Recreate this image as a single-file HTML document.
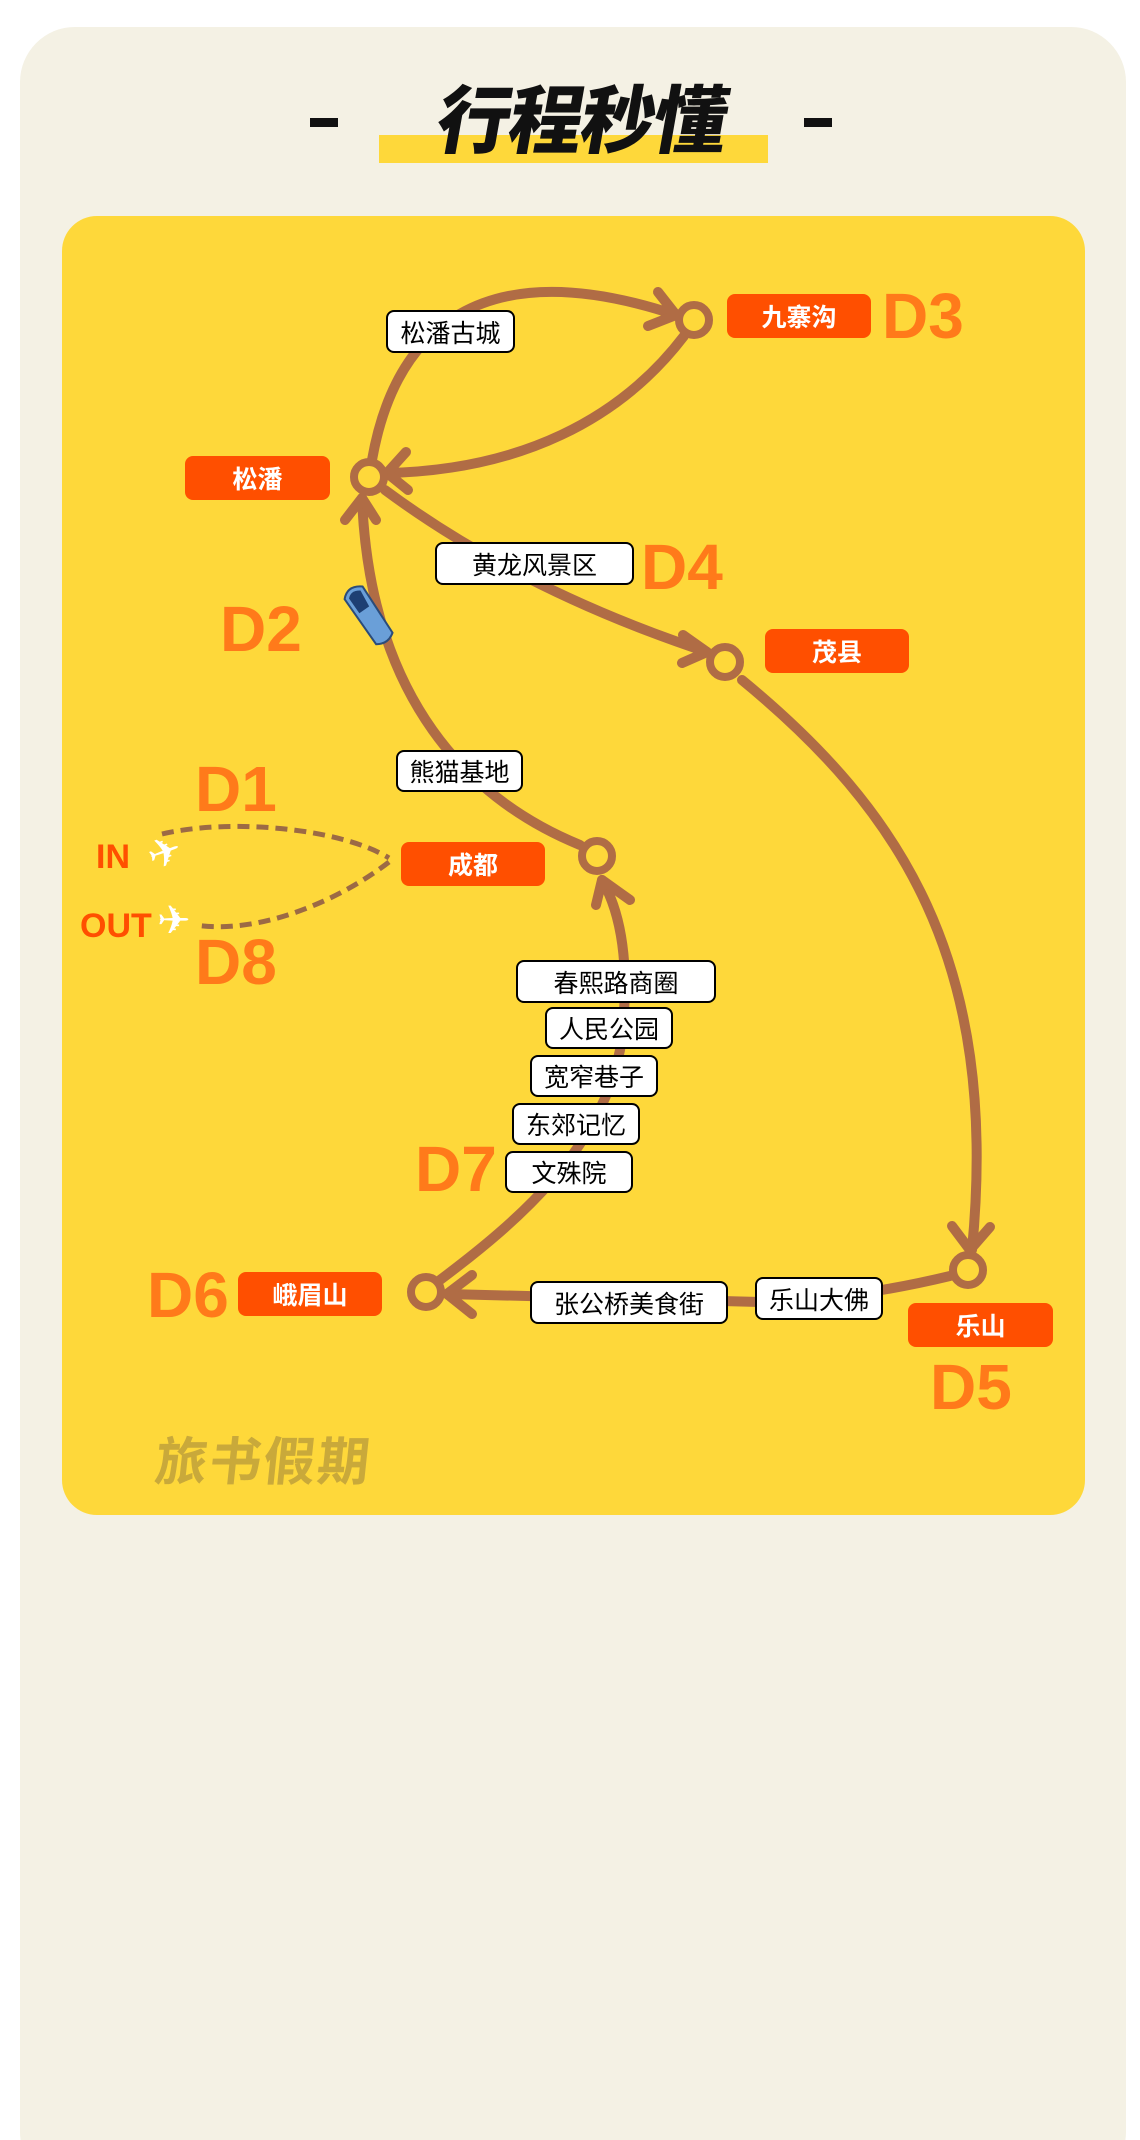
<!DOCTYPE html>
<html><head><meta charset="utf-8"><style>
body{margin:0;background:#fff;}
.wrap{position:relative;width:1140px;height:2140px;overflow:hidden;font-family:"Liberation Sans","Noto Sans CJK SC",sans-serif;}
.card{position:absolute;left:20px;top:27px;width:1106px;height:2160px;background:#f4f1e4;border-radius:55px;}
.panel{position:absolute;left:62px;top:216px;width:1023px;height:1299px;background:#fed83a;border-radius:35px;}
.ob{position:absolute;background:#ff4f00;color:#fff;font-weight:bold;font-size:25px;border-radius:8px;display:flex;align-items:center;justify-content:center;}
.wb{position:absolute;background:#fff;color:#000;font-size:25px;border:2px solid #000;border-radius:8px;box-sizing:border-box;display:flex;align-items:center;justify-content:center;}
.d{position:absolute;color:#ff7a1a;font-weight:bold;font-size:64px;line-height:1;}
</style></head><body><div class="wrap">
<div class="card"></div>
<div style="position:absolute;left:310px;top:118px;width:28px;height:9px;background:#111"></div>
<div style="position:absolute;left:804px;top:118px;width:28px;height:9px;background:#111"></div>
<div style="position:absolute;left:379px;top:135px;width:389px;height:28px;background:#fed83a"></div>
<div style="position:absolute;left:430px;top:72px;width:305px;text-align:center;font-size:74px;font-weight:900;color:#111;transform:skewX(-10deg);font-family:'Noto Sans CJK SC',sans-serif;line-height:1.2;letter-spacing:-2px">行程秒懂</div>
<div class="panel"></div>
<svg style="position:absolute;left:0;top:0" width="1140" height="2140">
<g fill="none" stroke="#b06c45" stroke-width="10" stroke-linecap="round" stroke-linejoin="round">
<path d="M372 460 C395 330,480 250,676 315"/>
<path d="M658 292 L676 315 L648 326"/>
<path d="M684 336 C620 420,520 470,387 473"/>
<path d="M406 452 L387 473 L408 490"/>
<path d="M580 845 C470 800,370 700,362 498"/>
<path d="M345 520 L362 498 L376 520"/>
<path d="M385 490 Q520 590 707 652"/>
<path d="M683 635 L707 652 L682 663"/>
<path d="M742 680 C900 810,1000 960,972 1250"/>
<path d="M952 1226 L970 1250 L990 1227"/>
<path d="M950 1276 Q850 1300 760 1302 L447 1294"/>
<path d="M472 1275 L447 1294 L472 1314"/>
<path d="M440 1280 C520 1220,600 1150,620 1050 C630 980,625 920,602 880"/>
<path d="M596 905 L602 880 L630 900"/>
</g>
<g fill="none" stroke="#b06c45" stroke-width="8">
<circle cx="694" cy="320" r="15"/><circle cx="369" cy="477" r="15"/><circle cx="725" cy="662" r="15"/>
<circle cx="597" cy="856" r="15"/><circle cx="968" cy="1270" r="15"/><circle cx="426" cy="1292" r="15"/>
</g>
<g fill="none" stroke="#9c6a45" stroke-width="5" stroke-dasharray="12 7">
<path d="M162 834 C230 818,340 828,389 858"/>
<path d="M389 862 C340 900,260 935,195 925"/>
</g>
<g transform="translate(370,618) rotate(-35)">
<path d="M-10 -30 Q0 -40 12 -30 L10 25 Q0 32 -10 25 Z" fill="#6a9fd8" stroke="#2b4c7a" stroke-width="2"/>
<path d="M-6 -28 Q0 -34 8 -28 L6 -10 L-6 -10Z" fill="#1d3f73"/>
</g>
</svg>
<div class="ob" style="left:727px;top:294px;width:144px;height:44px">九寨沟</div>
<div class="ob" style="left:185px;top:456px;width:145px;height:44px">松潘</div>
<div class="ob" style="left:765px;top:629px;width:144px;height:44px">茂县</div>
<div class="ob" style="left:401px;top:842px;width:144px;height:44px">成都</div>
<div class="ob" style="left:908px;top:1303px;width:145px;height:44px">乐山</div>
<div class="ob" style="left:238px;top:1272px;width:144px;height:44px">峨眉山</div>
<div class="wb" style="left:386px;top:310px;width:129px;height:43px">松潘古城</div>
<div class="wb" style="left:435px;top:542px;width:199px;height:43px">黄龙风景区</div>
<div class="wb" style="left:396px;top:750px;width:127px;height:42px">熊猫基地</div>
<div class="wb" style="left:516px;top:960px;width:200px;height:43px">春熙路商圈</div>
<div class="wb" style="left:545px;top:1007px;width:128px;height:42px">人民公园</div>
<div class="wb" style="left:530px;top:1055px;width:128px;height:42px">宽窄巷子</div>
<div class="wb" style="left:512px;top:1103px;width:128px;height:42px">东郊记忆</div>
<div class="wb" style="left:505px;top:1151px;width:128px;height:42px">文殊院</div>
<div class="wb" style="left:530px;top:1281px;width:198px;height:43px">张公桥美食街</div>
<div class="wb" style="left:755px;top:1277px;width:128px;height:43px">乐山大佛</div>
<div class="d" style="left:882px;top:284px">D3</div>
<div class="d" style="left:641px;top:535px">D4</div>
<div class="d" style="left:220px;top:597px">D2</div>
<div class="d" style="left:195px;top:757px">D1</div>
<div class="d" style="left:195px;top:930px">D8</div>
<div class="d" style="left:415px;top:1137px">D7</div>
<div class="d" style="left:147px;top:1263px">D6</div>
<div class="d" style="left:930px;top:1355px">D5</div>
<div style="position:absolute;left:96px;top:838px;color:#ff4f00;font-weight:bold;font-size:34px">IN</div>
<div style="position:absolute;left:80px;top:907px;color:#ff4f00;font-weight:bold;font-size:34px">OUT</div>
<div style="position:absolute;left:148px;top:830px;color:#fff;font-size:40px;font-family:'DejaVu Sans',sans-serif;transform:rotate(-20deg)">✈</div>
<div style="position:absolute;left:157px;top:898px;color:#fff;font-size:40px;font-family:'DejaVu Sans',sans-serif">✈</div>
<div style="position:absolute;left:156px;top:1420px;color:#c9a93a;font-size:52px;font-weight:bold;font-family:'Noto Sans CJK SC',sans-serif;letter-spacing:2px;transform:skewX(-6deg)">旅书假期</div>
</div></body></html>
